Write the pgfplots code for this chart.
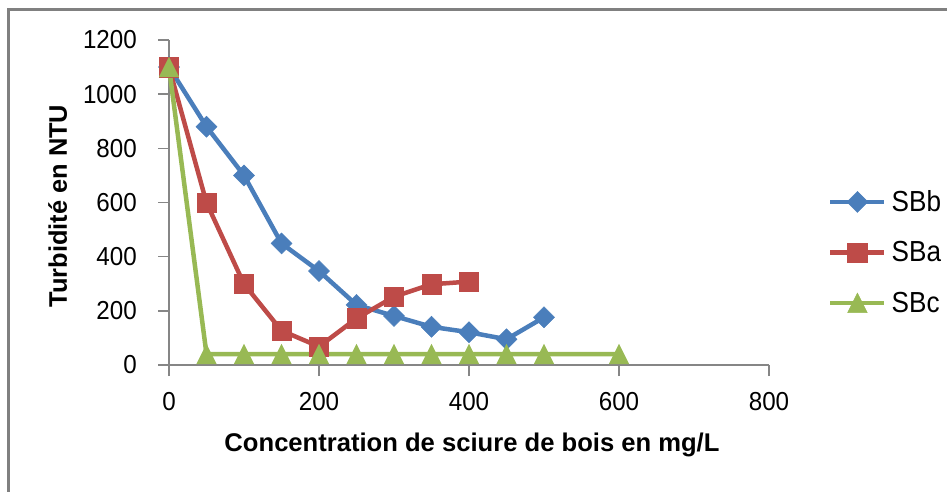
\documentclass[border=0pt]{standalone}
\usepackage{fontspec}
\setmainfont{Liberation Sans}[FakeStretch=0.93]
\newfontfamily\labfont{Liberation Sans}
\newfontfamily\legfont{Liberation Sans}[FakeStretch=0.9]
\usepackage{pgfplots}
\pgfplotsset{compat=1.18}
\definecolor{sbb}{HTML}{4A7EBB}
\definecolor{sba}{HTML}{BE4B48}
\definecolor{sbc}{HTML}{98B954}
\definecolor{axgray}{HTML}{868686}
\definecolor{framegray}{HTML}{808080}
\pgfdeclareplotmark{xdia}{%
  \pgfpathmoveto{\pgfqpoint{0pt}{\pgfplotmarksize}}%
  \pgfpathlineto{\pgfqpoint{\pgfplotmarksize}{0pt}}%
  \pgfpathlineto{\pgfqpoint{0pt}{-\pgfplotmarksize}}%
  \pgfpathlineto{\pgfqpoint{-\pgfplotmarksize}{0pt}}%
  \pgfpathclose
  \pgfusepathqfillstroke
}
\pgfdeclareplotmark{xtri}{%
  \pgfpathmoveto{\pgfqpoint{0pt}{\pgfplotmarksize}}%
  \pgfpathlineto{\pgfqpoint{\pgfplotmarksize}{-\pgfplotmarksize}}%
  \pgfpathlineto{\pgfqpoint{-\pgfplotmarksize}{-\pgfplotmarksize}}%
  \pgfpathclose
  \pgfusepathqfillstroke
}
\begin{document}
\begin{tikzpicture}[x=1pt,y=1pt]
\useasboundingbox (0,0) rectangle (947,491);
\draw[framegray, line width=3pt] (8.5,-5) -- (8.5,481.5) -- (960,481.5);
\begin{axis}[
  at={(169pt,126pt)}, anchor=south west,
  scale only axis, width=600pt, height=325pt,
  xmin=0, xmax=800, ymin=0, ymax=1200,
  xtick={0,200,400,600,800}, ytick={0,200,400,600,800,1000,1200},
  axis x line*=bottom, axis y line*=left,
  axis line style={axgray, line width=2pt, -},
  tick style={axgray, line width=1.6pt},
  tick align=outside, major tick length=11pt,
  /pgf/number format/assume math mode=true,
  /pgf/number format/1000 sep={},
  ticklabel style={font=\fontsize{26}{30}\selectfont, inner sep=0pt},
  yticklabel style={anchor=east, xshift=-21pt},
  xticklabel style={anchor=north, yshift=-16pt},
  xlabel={Concentration de sciure de bois en mg/L},
  ylabel={Turbidité en NTU},
  every axis x label/.style={at={(rel axis cs:0.505,0)}, anchor=base, yshift=-86.5pt, font=\labfont\bfseries\fontsize{25.6}{30}\selectfont, inner sep=0pt},
  every axis y label/.style={at={([xshift=-102pt]rel axis cs:0,0.489)}, anchor=base, rotate=90, font=\labfont\bfseries\fontsize{25.4}{30}\selectfont, inner sep=0pt},
  clip=false,
  legend style={at={(rel axis cs:1.0983,0.537)}, anchor=north west, draw=none, fill=none, inner sep=0pt, row sep=28.5pt, column sep=5pt, font=\legfont\fontsize{29}{30}\selectfont, nodes={inner sep=0pt}},
  legend cell align=left,
  legend image code/.code={\draw[mark repeat=2, mark phase=2, #1] plot coordinates {(0pt,0pt) (27pt,0pt) (54pt,0pt)};},
  every axis plot/.append style={line width=4.5pt},
]
\addplot[sbb, mark=xdia, mark size=10.5pt, mark options={solid, fill=sbb, line width=0.5pt}] coordinates {
(0,1100) (50,880) (100,700) (150,449) (200,347) (250,222) (300,181) (350,141) (400,121) (450,95) (500,176)};
\addlegendentry{SBb}
\addplot[sba, mark=square*, mark size=9.7pt, mark options={solid, fill=sba, line width=0.5pt}] coordinates {
(0,1100) (50,599) (100,299) (150,127) (200,68) (250,172) (300,252) (350,298) (400,308)};
\addlegendentry{SBa}
\addplot[sbc, mark=xtri, mark size=9.7pt, mark options={solid, fill=sbc, line width=0.5pt}] coordinates {
(0,1100) (50,40) (100,40) (150,40) (200,40) (250,40) (300,40) (350,40) (400,40) (450,40) (500,40) (600,40)};
\addlegendentry{SBc}
\end{axis}
\end{tikzpicture}
\end{document}
